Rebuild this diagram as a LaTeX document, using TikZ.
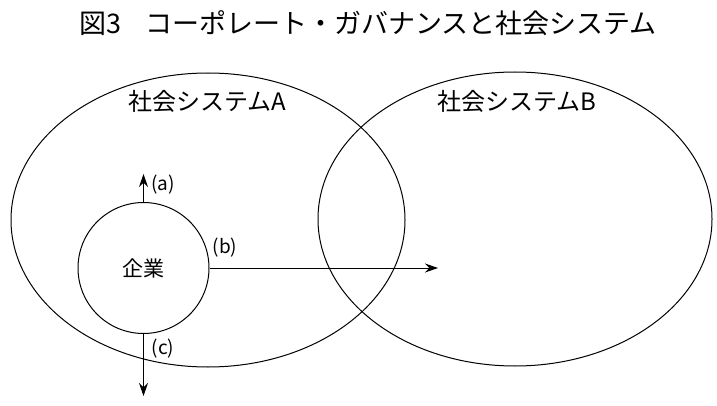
\documentclass[tikz,border=0pt]{standalone}
\usepackage{fontspec}
\setmainfont{Noto Sans CJK JP}
\usetikzlibrary{shapes.geometric,arrows.meta}
\tikzset{
  sysellipse/.style={draw, ellipse, line width=1pt, inner sep=0pt, minimum width=394pt, minimum height=294pt},
  firm/.style={draw, circle, line width=1pt, inner sep=0pt, minimum size=131pt, font=\fontsize{21}{24}\selectfont},
  syslabel/.style={font=\fontsize{24}{27}\selectfont, inner sep=0pt},
  arrlabel/.style={font=\fontsize{19}{22}\selectfont, inner sep=0pt},
  arr/.style={line width=1pt, -{Stealth[length=13pt,width=9pt]}},
}
\begin{document}
\begin{tikzpicture}[x=1pt,y=-1pt]
\useasboundingbox (0,0) rectangle (717,406);
\node[font=\fontsize{27}{30}\selectfont, inner sep=0pt] (title) at (368,23) {図3\hspace{24pt}コーポレート・ガバナンスと社会システム};
\node[sysellipse] (A) at (208,220) {};
\node[sysellipse] (B) at (515,219) {};
\node[syslabel] (la) at (207,101) {社会システムA};
\node[syslabel] (lb) at (517,101) {社会システムB};
\node[firm] (firm) at (143.5,268) {企業};
\coordinate (ta) at (143.5,174);
\coordinate (tb) at (438,268);
\coordinate (tc) at (143.5,396);
\draw[arr] (firm.north) -- (ta);
\draw[arr] (firm.east) -- (tb);
\draw[arr] (firm.south) -- (tc);
\node[arrlabel] (a) at (163,185) {(a)};
\node[arrlabel] (b) at (225,248) {(b)};
\node[arrlabel] (c) at (163,349) {(c)};
\end{tikzpicture}
\end{document}
